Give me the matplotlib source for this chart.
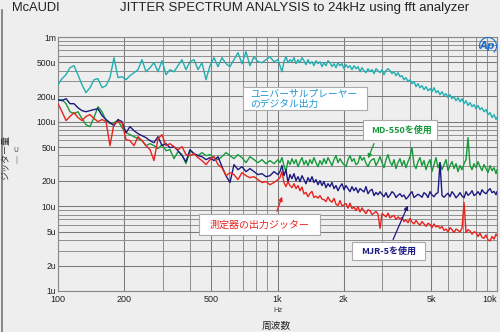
import numpy as np
import matplotlib.pyplot as plt
from matplotlib.ticker import FixedLocator, LogLocator, NullFormatter
from matplotlib.patches import Rectangle, Arc
from matplotlib.lines import Line2D

# frequency bins (Hz)
freq = [100, 104.3, 108.8, 113.4, 118.3, 123.3, 128.6, 134.1, 139.9, 145.9,
        152.1, 158.7, 165.5, 172.5, 179.9, 187.6, 195.7, 204.1, 212.8, 221.9,
        231.4, 241.4, 251.7, 262.5, 273.7, 285.5, 297.7, 310.5, 323.8, 337.6,
        352.1, 367.2, 382.9, 399.3, 416.5, 434.3, 452.9, 472.3, 492.6, 513.7,
        535.7, 558.6, 582.6, 607.5, 633.6, 660.7, 689.0, 718.5, 749.3, 781.4,
        814.9, 849.8, 886.2, 924.2, 963.8, 1005,
        1026, 1048, 1070, 1093, 1116, 1140, 1164, 1189, 1214, 1240,
        1266, 1293, 1320, 1348, 1377, 1406, 1436, 1466, 1497, 1529,
        1561, 1595, 1628, 1663, 1698, 1734, 1771, 1809, 1847, 1886,
        1926, 1967, 2009, 2051, 2095, 2139, 2184, 2231, 2278, 2327,
        2376, 2426, 2478, 2530, 2584, 2639, 2695, 2752, 2810, 2870,
        2931, 2993, 3056, 3121, 3187, 3255, 3324, 3395, 3467, 3540,
        3615, 3692, 3770, 3850, 3932, 4015, 4100, 4187, 4276, 4367,
        4459, 4554, 4650, 4749, 4850, 4953, 5057, 5165, 5274, 5386,
        5500, 5617, 5736, 5858, 5982, 6109, 6238, 6371, 6506, 6644,
        6785, 6929, 7076, 7226, 7379, 7535, 7695, 7858, 8025, 8195,
        8369, 8546, 8727, 8913, 9102, 9295, 9492, 9693, 9898, 10000]

# jitter in micro units
player = [273, 322, 359, 434, 458, 359, 273, 220, 252, 313,
          322, 252, 266, 331, 570, 331, 340, 313, 349, 379,
          411, 540, 389, 434, 497, 389, 525, 359, 411, 389,
          458, 540, 411, 511, 540, 411, 497, 313, 458, 570,
          446, 570, 484, 446, 540, 653, 484, 671, 458, 585,
          511, 497, 540, 585, 511, 540,
          458, 389, 511, 585, 497, 540, 511, 570, 484, 540,
          497, 570, 525, 471, 540, 484, 511, 458, 525, 484,
          511, 446, 497, 458, 525, 497, 446, 484, 434, 497,
          458, 484, 422, 471, 434, 458, 411, 458, 422, 446,
          389, 434, 400, 379, 422, 389, 411, 369, 422, 400,
          379, 411, 359, 400, 422, 400, 369, 389, 349, 379,
          340, 349, 313, 331, 297, 313, 281, 297, 259, 281,
          252, 266, 239, 259, 232, 245, 226, 252, 220, 232,
          208, 226, 203, 214, 192, 208, 187, 197, 177, 192,
          172, 187, 163, 177, 155, 168, 150, 159, 142, 155,
          139, 146, 131, 139, 121, 128, 112, 121, 106, 112]

md550 = [177, 182, 163, 131, 124, 131, 109, 92.2, 87.3, 112,
         150, 131, 103, 94.7, 97.3, 103, 85.0, 74.2, 70.2, 66.5,
         63.0, 59.7, 52.1, 55.0, 52.1, 48.0, 53.5, 45.4, 46.7, 36.6,
         44.2, 40.8, 31.9, 45.4, 41.9, 39.7, 43.1, 39.7, 40.8, 37.6,
         35.6, 38.6, 43.1, 39.7, 36.6, 40.8, 37.6, 32.8, 38.6, 35.6,
         32.8, 35.6, 31.9, 34.7, 31.9, 35.6,
         32.8, 37.6, 30.3, 25.7, 34.7, 31.1, 36.6, 31.9, 35.6, 29.4,
         33.7, 37.6, 31.1, 34.7, 30.3, 35.6, 31.9, 37.6, 32.8, 29.4,
         34.7, 31.1, 36.6, 31.9, 37.6, 33.7, 30.3, 35.6, 39.7, 32.8,
         36.6, 33.2, 31.1, 29.4, 35.6, 39.7, 34.0, 36.6, 31.1, 32.4,
         39.7, 35.0, 37.6, 32.2, 29.4, 33.5, 35.6, 36.6, 30.3, 33.7,
         38.6, 32.8, 28.6, 35.6, 40.8, 33.7, 30.3, 35.6, 27.9, 32.8,
         36.6, 30.3, 34.7, 28.6, 33.7, 38.6, 49.3, 31.1, 27.9, 33.7,
         37.6, 30.3, 34.7, 27.1, 31.9, 35.6, 25.7, 31.1, 37.6, 28.6,
         32.8, 27.1, 31.1, 35.6, 26.4, 30.3, 33.7, 27.9, 31.9, 25.7,
         30.3, 27.1, 31.9, 35.6, 64.7, 30.3, 27.1, 31.9, 28.6, 33.7,
         29.4, 26.4, 31.1, 27.9, 25.0, 30.3, 26.4, 28.6, 24.3, 27.1]

mjr5 = [182, 177, 187, 163, 163, 146, 135, 131, 135, 139,
        142, 118, 106, 97.3, 89.7, 106, 100, 74.2, 87.3, 78.3,
        72.2, 68.4, 64.7, 59.7, 56.5, 66.5, 52.1, 55.0, 49.3, 50.7,
        45.4, 39.7, 33.7, 46.7, 41.9, 39.7, 38.6, 35.6, 37.6, 34.7,
        38.6, 29.4, 23.0, 19.1, 31.1, 27.1, 29.4, 25.7, 27.9, 25.7,
        23.7, 24.3, 22.4, 23.0, 25.7, 23.7,
        25.7, 30.3, 23.0, 27.1, 19.1, 23.7, 21.2, 24.3, 20.1, 22.4,
        19.6, 23.0, 20.7, 18.5, 21.8, 19.6, 22.4, 19.1, 20.7, 18.0,
        20.1, 17.6, 19.6, 16.6, 18.5, 17.1, 19.1, 16.2, 17.6, 15.3,
        17.1, 18.5, 15.7, 17.6, 16.2, 14.9, 17.1, 15.3, 16.6, 14.5,
        16.2, 15.5, 14.8, 17.1, 14.1, 15.3, 15.9, 13.4, 14.6, 13.7,
        14.9, 13.8, 13.0, 14.5, 12.7, 13.6, 14.9, 14.2, 12.7, 13.5,
        14.1, 13.0, 13.6, 12.2, 12.9, 14.0, 14.9, 12.7, 13.3, 13.9,
        13.4, 12.8, 14.5, 13.9, 12.7, 14.9, 13.6, 13.0, 14.1, 14.5,
        32.8, 13.4, 12.8, 13.6, 14.3, 13.0, 14.9, 13.9, 12.6, 13.4,
        14.5, 13.2, 12.6, 14.9, 13.5, 14.1, 15.3, 13.4, 13.9, 14.9,
        13.6, 15.7, 14.6, 14.1, 15.3, 16.2, 14.5, 15.0, 13.7, 14.9]

analyzer = [163, 131, 103, 115, 128, 112, 103, 115, 121, 109,
            100, 106, 100, 52.1, 94.7, 100, 97.3, 61.3, 59.7, 52.1,
            66.5, 59.7, 52.1, 46.7, 34.7, 63.0, 70.2, 52.1, 55.0, 50.7,
            46.7, 50.7, 40.8, 39.7, 41.9, 37.6, 34.7, 31.1, 35.6, 38.6,
            31.1, 28.6, 23.0, 25.0, 23.7, 20.7, 25.0, 23.0, 21.8, 22.4,
            20.7, 19.1, 19.6, 18.0, 19.1, 20.7,
            21.8, 25.7, 19.1, 17.1, 19.6, 17.6, 16.6, 18.5, 16.2, 17.6,
            15.3, 16.9, 14.0, 14.6, 13.0, 14.2, 15.0, 12.7, 13.2, 12.5,
            13.4, 12.2, 12.0, 11.4, 12.9, 11.7, 11.2, 12.4, 10.6, 10.2,
            11.7, 10.1, 10.4, 10.8, 9.5, 10.9, 9.4, 9.8, 8.9, 9.9,
            8.6, 9.6, 8.8, 8.2, 9.1, 8.9, 8.0, 8.3, 8.7, 8.1,
            5.5, 8.2, 7.9, 7.5, 8.3, 7.3, 7.6, 7.8, 7.0, 7.5,
            7.1, 7.4, 6.6, 6.9, 6.4, 7.2, 6.5, 6.2, 6.8, 6.3,
            6.0, 6.6, 6.2, 5.8, 6.3, 6.1, 5.6, 6.2, 5.7, 5.9,
            5.5, 5.8, 5.2, 5.4, 5.0, 5.6, 5.3, 4.9, 5.4, 5.2,
            5.0, 5.5, 11.1, 4.9, 5.3, 5.1, 4.7, 5.0, 4.9, 4.4,
            4.8, 4.3, 4.2, 4.6, 4.0, 3.9, 4.4, 4.1, 4.7, 4.5]

xticks = [100, 200, 500, 1000, 2000, 5000, 10000]
xlabels = ['100', '200', '500', '1k', '2k', '5k', '10k']
yticks = [1, 2, 5, 10, 20, 50, 100, 200, 500, 1000]
ylabels = ['1u', '2u', '5u', '10u', '20u', '50u', '100u', '200u', '500u', '1m']

JP = ['Noto Sans CJK JP', 'DejaVu Sans']
BG = '#eeeeee'
W, H = 500, 332


def px(x, y):
    # pixel position (from top-left) -> figure fraction
    return (x / W, 1 - y / H)


fig = plt.figure(figsize=(5, 3.32), dpi=100, facecolor=BG)
ax = fig.add_axes([58 / W, 1 - 291 / H, (497 - 58) / W, (291 - 37) / H])
ax.set_facecolor(BG)

ax.plot(freq, player, color='#22aeb0', lw=1.0, zorder=3)
ax.plot(freq, md550, color='#17993a', lw=1.0, zorder=4)
ax.plot(freq, mjr5, color='#1c1a80', lw=1.0, zorder=5)
ax.plot(freq, analyzer, color='#e8231e', lw=1.0, zorder=6)

ax.set_xscale('log')
ax.set_yscale('log')
ax.set_xlim(100, 10000)
ax.set_ylim(1, 1000)

ax.xaxis.set_major_locator(FixedLocator(xticks))
ax.set_xticklabels(xlabels)
ax.yaxis.set_major_locator(FixedLocator(yticks))
ax.set_yticklabels(ylabels)
ax.xaxis.set_minor_locator(LogLocator(base=10, subs=np.arange(2, 10), numticks=20))
ax.yaxis.set_minor_locator(LogLocator(base=10, subs=np.arange(2, 10), numticks=20))
ax.xaxis.set_minor_formatter(NullFormatter())
ax.yaxis.set_minor_formatter(NullFormatter())
ax.tick_params(which='both', length=0)
ax.tick_params(axis='y', pad=1.5, labelsize=6.2, colors='#222')
ax.tick_params(axis='x', pad=3, labelsize=6.5, colors='#222')
for lab in ax.get_xticklabels() + ax.get_yticklabels():
    lab.set_family('Liberation Sans')
ax.get_xticklabels()[-1].set_horizontalalignment('right')

ax.grid(which='major', color='#7a7a7a', lw=0.75)
ax.grid(which='minor', color='#8f8f8f', lw=0.7)
for s in ax.spines.values():
    s.set_color('#888888')
    s.set_linewidth(0.8)

# titles
fig.text(*px(12, 8), 'McAUDI', fontsize=9.3, family='Liberation Sans',
         color='#222', va='center', ha='left')
fig.text(*px(120, 8), 'JITTER SPECTRUM ANALYSIS to 24kHz using fft analyzer',
         fontsize=9.5, family='Liberation Sans', color='#222', va='center', ha='left')

# axis labels
fig.text(*px(6, 158), 'ジッター量', rotation=90, fontsize=6.5, family=JP,
         color='#333', ha='center', va='center')
fig.text(*px(16, 150), 'U', fontsize=5, family=JP, color='#555', ha='center', va='center')
fig.text(*px(16, 160), '|', fontsize=5, family=JP, color='#555', ha='center', va='center')
fig.text(*px(278, 310), 'Hz', fontsize=5.5, family='Liberation Sans', color='#444',
         ha='center', va='center')
fig.text(*px(276, 326), '周波数', fontsize=7, family=JP, color='#222',
         ha='center', va='center')

# left frame line
fig.add_artist(Line2D([1.5 / W, 1.5 / W], [0, 1 - 10 / H], color='#777', lw=1.2))

# logo
fig.text(*px(487, 46), 'Ap', fontsize=7.5, style='italic', weight='bold',
         family='DejaVu Sans', color='#1d6fc4', ha='center', va='center')
fig.add_artist(Arc(px(488, 46), 17 / W, 17 / H, theta1=-60, theta2=200,
                   color='#1d6fc4', lw=0.8, transform=fig.transFigure))


def label_box(x0, y0, x1, y1):
    r = Rectangle(px(x0, y1), (x1 - x0) / W, (y1 - y0) / H, transform=fig.transFigure,
                  facecolor='white', edgecolor='#aaaaaa', lw=0.8, zorder=10)
    fig.add_artist(r)


def arrow(tip, tail, color):
    fig.add_artist(plt.Annotation('', xy=px(*tip), xytext=px(*tail),
                                  xycoords='figure fraction', textcoords='figure fraction',
                                  arrowprops=dict(arrowstyle='-|>', color=color,
                                                  lw=0.9, mutation_scale=6)))


# universal player
label_box(243, 87, 367, 110)
fig.text(*px(250, 93.5), 'ユニバーサルプレーヤー', fontsize=7, family=JP,
         color='#1f95d4', va='center', ha='left', zorder=11)
fig.text(*px(250, 103.5), 'のデジタル出力', fontsize=7, family=JP,
         color='#1f95d4', va='center', ha='left', zorder=11)

# MD-550
label_box(363, 120, 437, 140)
fig.text(*px(401, 130), 'MD-550を使用', fontsize=6.5, family=JP, weight='bold',
         color='#17993a', va='center', ha='center', zorder=11)
arrow((367, 161), (375, 141), '#17993a')

# analyzer output
label_box(199, 214, 320, 235)
fig.text(*px(259.5, 225), '測定器の出力ジッター', fontsize=7.2, family=JP,
         color='#e8231e', va='center', ha='center', zorder=11)
arrow((283, 194), (276, 214), '#e8231e')

# MJR-5
label_box(352, 242, 425, 260)
fig.text(*px(389, 251), 'MJR-5を使用', fontsize=6.5, family=JP, weight='bold',
         color='#1c1a80', va='center', ha='center', zorder=11)
arrow((409, 203), (392, 242), '#1c1a80')

fig.savefig('out.png', dpi=100, facecolor=BG)
